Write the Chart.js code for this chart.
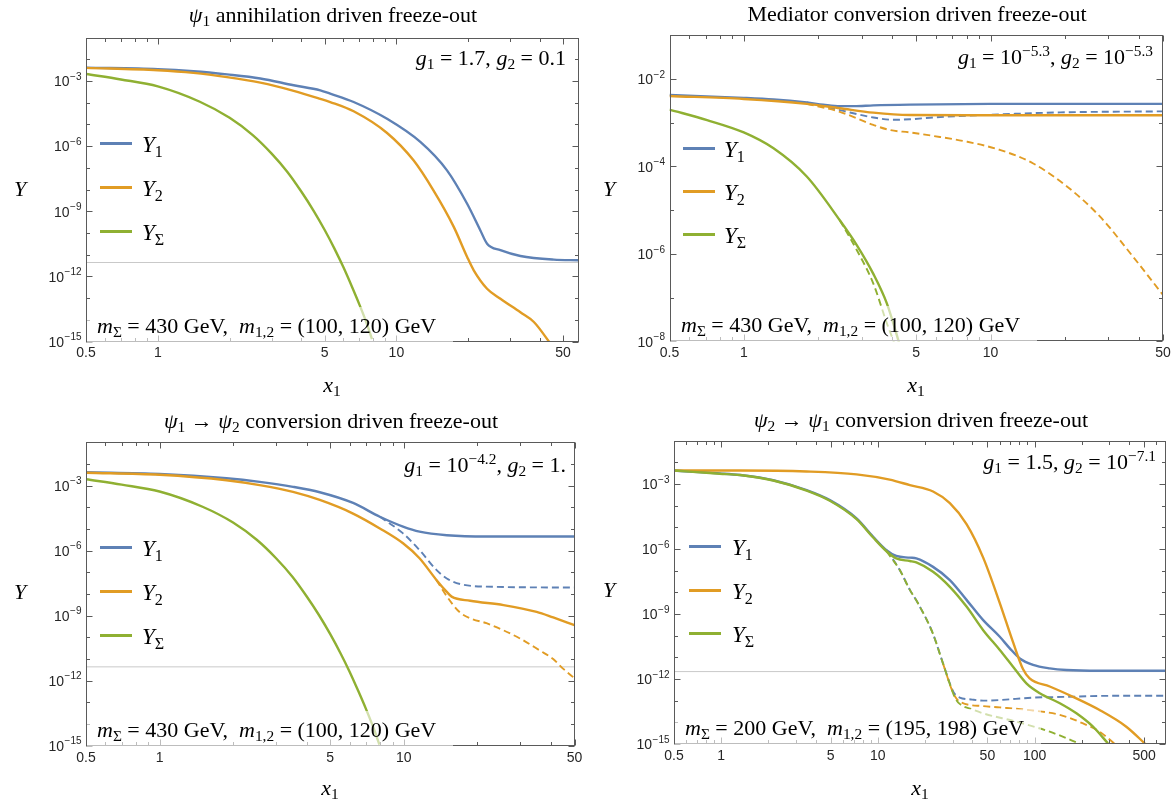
<!DOCTYPE html>
<html><head><meta charset="utf-8">
<script src="https://cdn.jsdelivr.net/npm/chart.js@4.4.1/dist/chart.umd.min.js"></script>
<style>
html,body{margin:0;padding:0;background:#fff}
#wrap{position:relative;width:1175px;height:800px;overflow:hidden;font-family:"Liberation Serif","Times New Roman",serif;color:#000}
canvas{position:absolute;left:0;top:0}
.t{position:absolute;white-space:nowrap;line-height:1}
.c{transform:translate(-50%,-50%)}
.l{transform:translate(0,-50%)}
.r{transform:translate(-100%,-50%)}
.sb{font-size:0.7em;position:relative;top:0.28em;font-style:normal}
.sp{font-size:0.7em;position:relative;top:-0.5em}
.ttl{font-size:22px}
.ann{font-size:22px}
.leg{font-size:23px}
.ax{font-size:22px}
.box{position:absolute;background:rgba(255,255,255,0.6);height:37px;width:366px;display:flex;align-items:center;font-size:22px;white-space:nowrap;box-sizing:border-box;padding-left:10px}
.ll{position:absolute;height:3px;width:32px}
</style></head>
<body>
<div id="wrap">
<canvas id="c1" width="1175" height="800" style="width:1175px;height:800px"></canvas>
<canvas id="c2" width="1175" height="800" style="width:1175px;height:800px"></canvas>
<canvas id="c3" width="1175" height="800" style="width:1175px;height:800px"></canvas>
<canvas id="c4" width="1175" height="800" style="width:1175px;height:800px"></canvas>

<!-- panel 1 -->
<div class="t c ttl" style="left:333px;top:15px"><i>ψ</i><span class="sb">1</span> annihilation driven freeze-out</div>
<div class="t r ann" style="left:566px;top:58px"><i>g</i><span class="sb">1</span> = 1.7, <i>g</i><span class="sb">2</span> = 0.1</div>
<div class="ll" style="left:100px;top:141.5px;background:#5E81B5"></div>
<div class="ll" style="left:100px;top:185.5px;background:#E19C24"></div>
<div class="ll" style="left:100px;top:229.5px;background:#8FB032"></div>
<div class="t l leg" style="left:142px;top:144px"><i>Y</i><span class="sb">1</span></div>
<div class="t l leg" style="left:142px;top:188px"><i>Y</i><span class="sb">2</span></div>
<div class="t l leg" style="left:142px;top:232px"><i>Y</i><span class="sb">Σ</span></div>
<div class="box" style="left:87px;top:307px"><span><i>m</i><span class="sb">Σ</span> = 430 GeV, &nbsp;<i>m</i><span class="sb">1,2</span> = (100, 120) GeV</span></div>
<div class="t c ax" style="left:20px;top:189px"><i>Y</i></div>
<div class="t c ax" style="left:332px;top:385px"><i>x</i><span class="sb">1</span></div>

<!-- panel 2 -->
<div class="t c ttl" style="left:917px;top:14px">Mediator conversion driven freeze-out</div>
<div class="t r ann" style="left:1153px;top:57px"><i>g</i><span class="sb">1</span> = 10<span class="sp">−5.3</span>, <i>g</i><span class="sb">2</span> = 10<span class="sp">−5.3</span></div>
<div class="ll" style="left:683px;top:146.5px;background:#5E81B5"></div>
<div class="ll" style="left:683px;top:189.5px;background:#E19C24"></div>
<div class="ll" style="left:683px;top:232.5px;background:#8FB032"></div>
<div class="t l leg" style="left:724px;top:149px"><i>Y</i><span class="sb">1</span></div>
<div class="t l leg" style="left:724px;top:192px"><i>Y</i><span class="sb">2</span></div>
<div class="t l leg" style="left:724px;top:235px"><i>Y</i><span class="sb">Σ</span></div>
<div class="box" style="left:671px;top:306px"><span><i>m</i><span class="sb">Σ</span> = 430 GeV, &nbsp;<i>m</i><span class="sb">1,2</span> = (100, 120) GeV</span></div>
<div class="t c ax" style="left:609px;top:189px"><i>Y</i></div>
<div class="t c ax" style="left:916px;top:385px"><i>x</i><span class="sb">1</span></div>

<!-- panel 3 -->
<div class="t c ttl" style="left:331px;top:421px"><i>ψ</i><span class="sb">1</span> → <i>ψ</i><span class="sb">2</span> conversion driven freeze-out</div>
<div class="t r ann" style="left:566px;top:465px"><i>g</i><span class="sb">1</span> = 10<span class="sp">−4.2</span>, <i>g</i><span class="sb">2</span> = 1.</div>
<div class="ll" style="left:100px;top:545.5px;background:#5E81B5"></div>
<div class="ll" style="left:100px;top:589.5px;background:#E19C24"></div>
<div class="ll" style="left:100px;top:633.5px;background:#8FB032"></div>
<div class="t l leg" style="left:142px;top:548px"><i>Y</i><span class="sb">1</span></div>
<div class="t l leg" style="left:142px;top:592px"><i>Y</i><span class="sb">2</span></div>
<div class="t l leg" style="left:142px;top:636px"><i>Y</i><span class="sb">Σ</span></div>
<div class="box" style="left:87px;top:711px"><span><i>m</i><span class="sb">Σ</span> = 430 GeV, &nbsp;<i>m</i><span class="sb">1,2</span> = (100, 120) GeV</span></div>
<div class="t c ax" style="left:20px;top:592px"><i>Y</i></div>
<div class="t c ax" style="left:330px;top:788px"><i>x</i><span class="sb">1</span></div>

<!-- panel 4 -->
<div class="t c ttl" style="left:921px;top:420px"><i>ψ</i><span class="sb">2</span> → <i>ψ</i><span class="sb">1</span> conversion driven freeze-out</div>
<div class="t r ann" style="left:1156px;top:462px"><i>g</i><span class="sb">1</span> = 1.5, <i>g</i><span class="sb">2</span> = 10<span class="sp">−7.1</span></div>
<div class="ll" style="left:689px;top:544.5px;background:#5E81B5"></div>
<div class="ll" style="left:689px;top:588.5px;background:#E19C24"></div>
<div class="ll" style="left:689px;top:631.5px;background:#8FB032"></div>
<div class="t l leg" style="left:732px;top:547px"><i>Y</i><span class="sb">1</span></div>
<div class="t l leg" style="left:732px;top:591px"><i>Y</i><span class="sb">2</span></div>
<div class="t l leg" style="left:732px;top:634px"><i>Y</i><span class="sb">Σ</span></div>
<div class="box" style="left:675px;top:709px"><span><i>m</i><span class="sb">Σ</span> = 200 GeV, &nbsp;<i>m</i><span class="sb">1,2</span> = (195, 198) GeV</span></div>
<div class="t c ax" style="left:609px;top:590px"><i>Y</i></div>
<div class="t c ax" style="left:920px;top:788px"><i>x</i><span class="sb">1</span></div>
</div>

<script>
// ---------------- colours ----------------
const BLUE = '#5E81B5', ORANGE = '#E19C24', GREEN = '#8FB032', REF = '#c9c9c9';

// ---------------- panel 1: psi1 annihilation ----------------
const p1_x_Y1 = [0.5, 1.0, 1.41, 1.95, 2.69, 3.71, 4.8, 5.28, 6.62, 9.14, 12.6, 16.3, 19.8, 22.5, 24.0, 27.3, 33.1, 45.7, 58];
const p1_Y1   = [4.1e-3, 3.5e-3, 2.8e-3, 2.0e-3, 1.3e-3, 6.3e-4, 3.7e-4, 2.6e-4, 1.07e-4, 1.8e-5, 1.55e-6, 7.6e-8, 2.2e-9, 1.3e-10, 3.2e-11, 1.6e-11, 8.7e-12, 5.9e-12, 5.5e-12];
const p1_x_Y2 = [0.5, 1.0, 1.41, 1.95, 2.69, 3.71, 4.8, 5.28, 6.62, 9.14, 11.8, 14.3, 17.4, 19.8, 21.1, 24.0, 27.3, 33.1, 37.7, 44.3];
const p1_Y2   = [4.0e-3, 3.1e-3, 2.35e-3, 1.5e-3, 8.3e-4, 3.5e-4, 1.5e-4, 1.07e-4, 4.0e-5, 4.0e-6, 2.2e-7, 9.1e-9, 1.9e-10, 7.8e-12, 1.9e-12, 2.7e-13, 9.3e-14, 2.2e-14, 7.9e-15, 7.9e-16];
const p1_x_YS = [0.5, 0.7, 1.0, 1.5, 2.0, 2.5, 3.0, 3.5, 4.0, 4.5, 5.0, 5.5, 6.0, 6.5, 7.0, 7.5, 7.9];
const p1_YS   = [2.1e-3, 1.17e-3, 5.6e-4, 1.1e-4, 2.0e-5, 3.2e-6, 4.5e-7, 6.3e-8, 7.9e-9, 1.05e-9, 1.4e-10, 1.9e-11, 2.6e-12, 3.5e-13, 5.0e-14, 7.1e-15, 1.3e-15];

// ---------------- panel 2: mediator conversion ----------------
const p2_x_Y1  = [0.5, 1.0, 1.32, 1.8, 2.1, 2.45, 2.8, 3.35, 4.72, 10, 50];
const p2_Y1    = [4.3e-3, 3.7e-3, 3.4e-3, 2.9e-3, 2.6e-3, 2.4e-3, 2.4e-3, 2.5e-3, 2.6e-3, 2.7e-3, 2.7e-3];
const p2_x_Y1d = [1.8, 2.45, 3.35, 4.0, 4.72, 5.86, 8.0, 10.9, 14.9, 20.4, 27.8, 50];
const p2_Y1d   = [2.9e-3, 1.95e-3, 1.32e-3, 1.17e-3, 1.2e-3, 1.32e-3, 1.45e-3, 1.55e-3, 1.66e-3, 1.74e-3, 1.78e-3, 1.82e-3];
const p2_x_Y2  = [0.5, 1.0, 1.8, 2.45, 3.35, 4.72, 8, 50];
const p2_Y2    = [4.1e-3, 3.5e-3, 2.7e-3, 2.15e-3, 1.7e-3, 1.5e-3, 1.48e-3, 1.48e-3];
const p2_x_Y2d = [1.8, 2.45, 3.35, 3.92, 4.72, 5.86, 8.0, 10.9, 14.9, 20.4, 27.8, 37.9, 50];
const p2_Y2d   = [2.7e-3, 1.78e-3, 8.9e-4, 6.8e-4, 6.0e-4, 5.0e-4, 3.7e-4, 2.4e-4, 1.17e-4, 3.5e-5, 7.1e-6, 8.5e-7, 1.15e-7];
const p2_x_YS  = [0.5, 0.71, 1.0, 1.32, 1.8, 2.45, 2.87, 3.35, 3.8, 4.29, 4.5];
const p2_YS    = [2.0e-3, 1.15e-3, 6.0e-4, 2.6e-4, 5.9e-5, 5.9e-6, 1.6e-6, 3.5e-7, 7.4e-8, 8.1e-9, 3.2e-9];
const p2_x_YSd = [2.45, 2.87, 3.35, 3.8, 4.1, 4.3];
const p2_YSd   = [5.9e-6, 1.23e-6, 2.1e-7, 2.6e-8, 8.1e-9, 3.2e-9];

// ---------------- panel 3: psi1 -> psi2 conversion ----------------
const p3_x_Y1  = [0.5, 1.0, 1.88, 2.57, 3.52, 4.53, 6.2, 7.98, 9.93, 11.6, 15.0, 21.8, 50];
const p3_Y1    = [4.2e-3, 3.5e-3, 2.2e-3, 1.5e-3, 8.9e-4, 5.0e-4, 1.6e-4, 3.7e-5, 1.3e-5, 7.6e-6, 5.2e-6, 4.5e-6, 4.5e-6];
const p3_x_Y1d = [7.98, 9.93, 11.6, 13.6, 15.0, 17.0, 21.8, 50];
const p3_Y1d   = [3.7e-5, 6.3e-6, 1.07e-6, 1.3e-7, 5.2e-8, 2.9e-8, 2.2e-8, 2.0e-8];
const p3_x_Y2  = [0.5, 1.0, 1.88, 2.57, 3.52, 4.53, 6.2, 7.98, 9.93, 11.6, 13.6, 15.0, 15.7, 18.7, 25.6, 35, 40.9, 50];
const p3_Y2    = [4.0e-3, 3.2e-3, 1.8e-3, 1.07e-3, 5.2e-4, 2.2e-4, 5.2e-5, 1.07e-5, 2.2e-6, 4.5e-7, 4.5e-8, 1.26e-8, 7.6e-9, 4.9e-9, 3.1e-9, 1.5e-9, 8.3e-10, 3.7e-10];
const p3_x_Y2d = [13.6, 15.0, 17.0, 19.0, 21.8, 29.9, 36, 40.9, 45, 50];
const p3_Y2d   = [4.5e-8, 7.9e-9, 1.4e-9, 7.1e-10, 4.5e-10, 8.9e-11, 2.5e-11, 1.0e-11, 3.5e-12, 1.3e-12];
const p3_x_YS  = [0.5, 0.7, 1.0, 1.5, 2.0, 2.5, 3.0, 3.5, 4.0, 4.5, 5.0, 5.5, 6.0, 6.5, 7.0, 7.5, 7.95];
const p3_YS    = [2.0e-3, 1.12e-3, 5.4e-4, 1.07e-4, 2.0e-5, 3.2e-6, 4.5e-7, 6.3e-8, 7.9e-9, 1.05e-9, 1.4e-10, 1.9e-11, 2.6e-12, 3.5e-13, 5.0e-14, 7.1e-15, 1.12e-15];

// ---------------- panel 4: psi2 -> psi1 conversion ----------------
const p4_x_Y1  = [0.5, 0.98, 1.32, 2.15, 3.51, 4.94, 7.31, 9.33, 11.35, 13.1, 16, 17.6, 22.5, 28.8, 36.8, 47, 60, 69.5, 80.5, 97.8, 125, 160, 260, 690];
const p4_Y1    = [4.2e-3, 3.1e-3, 2.6e-3, 1.5e-3, 5.2e-4, 1.8e-4, 2.6e-5, 3.7e-6, 8.9e-7, 4.8e-7, 4.0e-7, 3.7e-7, 1.5e-7, 3.7e-8, 4.5e-9, 5.2e-10, 8.9e-11, 2.6e-11, 8.9e-12, 4.5e-12, 3.1e-12, 2.6e-12, 2.4e-12, 2.4e-12];
const p4_x_Y1d = [11.35, 13.8, 16, 18, 22.4, 26.1, 29.5, 31, 33.3, 40, 47, 60, 97.8, 160, 260, 690];
const p4_Y1d   = [8.9e-7, 1.07e-7, 1.3e-8, 3.2e-9, 1.3e-10, 5.0e-12, 4.0e-13, 2.0e-13, 1.4e-13, 1.12e-13, 1.0e-13, 1.07e-13, 1.38e-13, 1.5e-13, 1.66e-13, 1.7e-13];
const p4_x_Y2  = [0.5, 1.32, 3.51, 7.31, 11.9, 16, 22.5, 28.8, 36.8, 47, 60, 72.9, 84.5, 93, 125, 176, 260, 385, 518];
const p4_Y2    = [4.2e-3, 4.2e-3, 3.8e-3, 2.8e-3, 1.6e-3, 8.9e-4, 4.5e-4, 1.3e-4, 1.4e-5, 4.0e-7, 3.2e-9, 5.0e-11, 2.8e-12, 1.07e-12, 4.5e-13, 1.5e-13, 3.7e-14, 6.3e-15, 8.9e-16];
const p4_x_Y2d = [26.1, 29.5, 31, 33.3, 47, 60, 97.8, 145, 204, 260, 333];
const p4_Y2d   = [5.0e-12, 3.5e-13, 1.6e-13, 8.9e-14, 5.6e-14, 4.9e-14, 3.5e-14, 2.2e-14, 8.9e-15, 3.7e-15, 8.9e-16];
const p4_x_YS  = [0.5, 0.98, 1.32, 2.15, 3.51, 4.94, 7.31, 9.33, 11.35, 13.1, 16, 17.6, 22.5, 28.8, 36.8, 47, 60, 72.9, 88.7, 108, 145, 185, 236, 294];
const p4_YS    = [4.2e-3, 3.0e-3, 2.6e-3, 1.45e-3, 5.0e-4, 1.7e-4, 2.4e-5, 3.4e-6, 7.9e-7, 3.7e-7, 2.8e-7, 2.4e-7, 8.9e-8, 1.8e-8, 2.2e-9, 1.8e-10, 2.2e-11, 3.7e-12, 6.3e-13, 2.2e-13, 7.6e-14, 2.6e-14, 6.3e-15, 1.07e-15];
const p4_x_YSd = [11.35, 13.8, 16, 18, 22.4, 26.1, 29.5, 31, 33.3, 40, 47, 76.7, 125, 204];
const p4_YSd   = [7.9e-7, 1.07e-7, 1.3e-8, 3.2e-9, 1.3e-10, 5.0e-12, 3.5e-13, 1.4e-13, 7.1e-14, 4.0e-14, 2.6e-14, 1.07e-14, 3.7e-15, 8.9e-16];

// relic-density reference levels
const relic_100GeV = 4.35e-12;
const relic_195GeV = 2.2e-12;

// ---------------- ticks ----------------
const xMajor_50  = [0.5, 1, 5, 10, 50];
const xLabels_50 = ['0.5', '1', '5', '10', '50'];
const xMinor_50  = [0.6, 0.7, 0.8, 0.9, 2, 3, 4, 6, 7, 8, 9, 20, 30, 40];
const xMajor_700  = [0.5, 1, 5, 10, 50, 100, 500];
const xLabels_700 = ['0.5', '1', '5', '10', '50', '100', '500'];
const xMinor_700  = [0.6, 0.7, 0.8, 0.9, 2, 3, 4, 6, 7, 8, 9, 20, 30, 40, 60, 70, 80, 90, 200, 300, 400, 600];
const yMajor_15 = [1e-3, 1e-6, 1e-9, 1e-12, 1e-15];
const yExp_15   = ['−3', '−6', '−9', '−12', '−15'];
const yMinor_15 = [1e-2, 1e-4, 1e-5, 1e-7, 1e-8, 1e-10, 1e-11, 1e-13, 1e-14];
const yMajor_8 = [1e-2, 1e-4, 1e-6, 1e-8];
const yExp_8   = ['−2', '−4', '−6', '−8'];
const yMinor_8 = [1e-3, 1e-5, 1e-7];

// ---------------- helpers ----------------
function pts(xs, ys) { return xs.map((x, i) => ({x: x, y: ys[i]})); }
function line(xs, ys, color, dashed) {
  return {data: pts(xs, ys), borderColor: color, borderWidth: dashed ? 1.9 : 2.4,
          borderDash: dashed ? [7, 4] : [], pointRadius: 0, fill: false,
          cubicInterpolationMode: 'monotone', borderCapStyle: 'butt'};
}
function refLine(xmin, xmax, v) {
  return {data: [{x: xmin, y: v}, {x: xmax, y: v}], borderColor: REF, borderWidth: 1,
          pointRadius: 0, fill: false};
}
const FONT_T = '"Liberation Sans", Arial, sans-serif';
function framePlugin(f) {
  return {
    id: 'mframe',
    afterDatasetsDraw(chart) {
      const ctx = chart.ctx, a = chart.chartArea, xs = chart.scales.x, ys = chart.scales.y;
      ctx.save();
      ctx.strokeStyle = '#5a5a5a'; ctx.lineWidth = 1;
      const L = Math.round(a.left) + 0.5, R = Math.round(a.right) - 0.5,
            T = Math.round(a.top) + 0.5, B = Math.round(a.bottom) - 0.5;
      ctx.strokeRect(L, T, R - L, B - T);
      ctx.beginPath();
      const xt = (v, len) => { const p = Math.round(xs.getPixelForValue(v)) + 0.5;
        ctx.moveTo(p, B); ctx.lineTo(p, B - len); ctx.moveTo(p, T); ctx.lineTo(p, T + len); };
      const yt = (v, len) => { const p = Math.round(ys.getPixelForValue(v)) + 0.5;
        ctx.moveTo(L, p); ctx.lineTo(L + len, p); ctx.moveTo(R, p); ctx.lineTo(R - len, p); };
      f.xMajor.forEach(v => xt(v, 6)); f.xMinor.forEach(v => xt(v, 3.5));
      f.yMajor.forEach(v => yt(v, 6)); f.yMinor.forEach(v => yt(v, 3.5));
      ctx.stroke();
      ctx.fillStyle = '#262626';
      ctx.font = '14px ' + FONT_T;
      ctx.textAlign = 'center'; ctx.textBaseline = 'top';
      f.xMajor.forEach((v, i) => ctx.fillText(f.xLabels[i], xs.getPixelForValue(v), a.bottom + 5));
      ctx.textAlign = 'left'; ctx.textBaseline = 'middle';
      f.yMajor.forEach((v, i) => {
        const py = ys.getPixelForValue(v);
        ctx.font = '14px ' + FONT_T; const w1 = ctx.measureText('10').width;
        ctx.font = '10px ' + FONT_T; const w2 = ctx.measureText(f.yExp[i]).width;
        const x0 = a.left - 5 - w1 - w2;
        ctx.font = '14px ' + FONT_T; ctx.fillText('10', x0, py + 1.5);
        ctx.font = '10px ' + FONT_T; ctx.fillText(f.yExp[i], x0 + w1 + 0.5, py - 4);
      });
      ctx.restore();
    }
  };
}
function makeChart(id, frame, xr, yr, sets, f) {
  return new Chart(document.getElementById(id), {
    type: 'line',
    data: {datasets: sets},
    options: {
      responsive: false, animation: false, devicePixelRatio: 1, events: [],
      layout: {padding: {left: frame[0], top: frame[1], right: 1175 - frame[2], bottom: 800 - frame[3]}},
      scales: {
        x: {type: 'logarithmic', min: xr[0], max: xr[1], display: false},
        y: {type: 'logarithmic', min: yr[0], max: yr[1], display: false}
      },
      plugins: {legend: {display: false}, tooltip: {enabled: false}}
    },
    plugins: [framePlugin(f)]
  });
}

// panel 1
makeChart('c1', [86, 37.5, 578.5, 341.5], [0.5, 58], [1e-15, 1e-1], [
  line(p1_x_YS, p1_YS, GREEN, false),
  line(p1_x_Y2, p1_Y2, ORANGE, false),
  line(p1_x_Y1, p1_Y1, BLUE, false),
  refLine(0.5, 58, relic_100GeV)
], {xMajor: xMajor_50, xLabels: xLabels_50, xMinor: xMinor_50, yMajor: yMajor_15, yExp: yExp_15, yMinor: yMinor_15});

// panel 2
makeChart('c2', [669.5, 35.3, 1163, 341.4], [0.5, 50], [1e-8, 1e-1], [
  line(p2_x_YSd, p2_YSd, GREEN, true),
  line(p2_x_YS, p2_YS, GREEN, false),
  line(p2_x_Y2d, p2_Y2d, ORANGE, true),
  line(p2_x_Y2, p2_Y2, ORANGE, false),
  line(p2_x_Y1d, p2_Y1d, BLUE, true),
  line(p2_x_Y1, p2_Y1, BLUE, false)
], {xMajor: xMajor_50, xLabels: xLabels_50, xMinor: xMinor_50, yMajor: yMajor_8, yExp: yExp_8, yMinor: yMinor_8});

// panel 3
makeChart('c3', [86, 442.4, 574.5, 745.7], [0.5, 50], [1e-15, 1e-1], [
  line(p3_x_YS, p3_YS, GREEN, false),
  line(p3_x_Y2d, p3_Y2d, ORANGE, true),
  line(p3_x_Y2, p3_Y2, ORANGE, false),
  line(p3_x_Y1d, p3_Y1d, BLUE, true),
  line(p3_x_Y1, p3_Y1, BLUE, false),
  refLine(0.5, 50, relic_100GeV)
], {xMajor: xMajor_50, xLabels: xLabels_50, xMinor: xMinor_50, yMajor: yMajor_15, yExp: yExp_15, yMinor: yMinor_15});

// panel 4
makeChart('c4', [674, 440.7, 1166, 744], [0.5, 690], [1e-15, 1e-1], [
  line(p4_x_YSd, p4_YSd, GREEN, true),
  line(p4_x_YS, p4_YS, GREEN, false),
  line(p4_x_Y2d, p4_Y2d, ORANGE, true),
  line(p4_x_Y2, p4_Y2, ORANGE, false),
  line(p4_x_Y1d, p4_Y1d, BLUE, true),
  line(p4_x_Y1, p4_Y1, BLUE, false),
  refLine(0.5, 690, relic_195GeV)
], {xMajor: xMajor_700, xLabels: xLabels_700, xMinor: xMinor_700, yMajor: yMajor_15, yExp: yExp_15, yMinor: yMinor_15});
</script>
</body></html>
